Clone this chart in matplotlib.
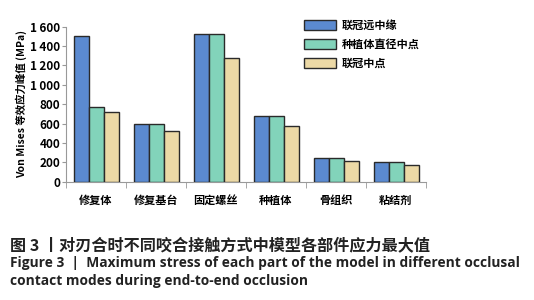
import numpy as np
import matplotlib
matplotlib.use("Agg")
import matplotlib.pyplot as plt
from matplotlib.ticker import FuncFormatter

plt.rcParams['font.family'] = ['Noto Sans CJK SC', 'DejaVu Sans']

categories = ['修复体', '修复基台', '固定螺丝', '种植体', '骨组织', '粘结剂']
series_names = ['联冠远中缘', '种植体直径中点', '联冠中点']
distal_edge = [1500, 600, 1520, 680, 250, 200]
implant_mid = [770, 600, 1520, 680, 250, 200]
crown_mid = [720, 520, 1280, 580, 215, 170]
colors = ['#5b8ad0', '#82d3ba', '#ecd9a6']

fig = plt.figure(figsize=(5.34, 3.0), dpi=100)
ax = fig.add_axes([0.123, 0.394, 0.674, 0.517])

x = np.arange(len(categories))
w = 0.25
for i, (vals, name, c) in enumerate(zip([distal_edge, implant_mid, crown_mid], series_names, colors)):
    ax.bar(x + (i - 1) * w + 0.02, vals, width=w, color=c, edgecolor='#2a2a2a',
           linewidth=1.0, label=name, zorder=3)

ax.set_xlim(-0.5, len(categories) - 0.5)
ax.set_ylim(0, 1600)
ax.set_yticks(range(0, 1601, 200))
ax.yaxis.set_major_formatter(FuncFormatter(lambda v, p: f'{int(v):,}'.replace(',', '\u2009')))
ax.set_xticks(x)
ax.set_xticklabels(categories, fontsize=8, fontweight='bold')
ax.set_xticks(np.arange(-0.5, len(categories)), minor=True)
ax.tick_params(axis='x', which='major', length=0, pad=9)
ax.tick_params(axis='x', which='minor', length=4, color='#999999')
ax.tick_params(axis='y', labelsize=8.5, length=3, color='#999999', pad=1)
for lab in ax.get_yticklabels():
    lab.set_fontweight('bold')
ax.spines['top'].set_visible(False)
ax.spines['right'].set_visible(False)
ax.spines['left'].set_color('#999999')
ax.spines['bottom'].set_color('#999999')
ax.set_ylabel('Von Mises 等效应力峰值 (MPa)', fontsize=7.5, fontweight='bold', labelpad=2)

ax.legend(loc='upper left', bbox_to_anchor=(0.635, 1.115), frameon=False,
          handlelength=2.9, handleheight=1.0, labelspacing=0.55, handletextpad=0.45,
          prop={'weight': 'bold', 'size': 8})

fig.text(0.018, 0.165, '图 3 丨对刃合时不同咬合接触方式中模型各部件应力最大值',
         fontsize=11.6, fontweight='bold', color='#222222')
fig.text(0.018, 0.11, 'Figure 3  |  Maximum stress of each part of the model in different occlusal',
         fontsize=9.9, fontweight='bold', family=['Open Sans', 'DejaVu Sans'], color='#222222')
fig.text(0.018, 0.05, 'contact modes during end-to-end occlusion',
         fontsize=9.9, fontweight='bold', family=['Open Sans', 'DejaVu Sans'], color='#222222')

fig.savefig('out.png', dpi=100)
